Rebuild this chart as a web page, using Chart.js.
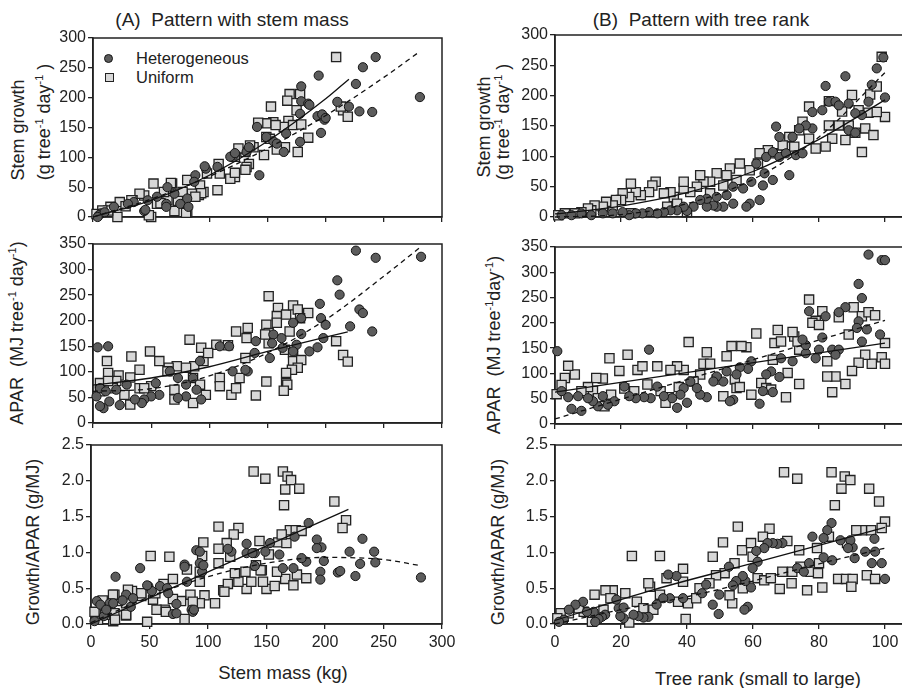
<!DOCTYPE html>
<html>
<head>
<meta charset="utf-8">
<script src="https://cdn.jsdelivr.net/npm/chart.js@4.4.1/dist/chart.umd.min.js"></script>
<style>
  body { margin: 0; width: 902px; height: 688px; overflow: hidden; background: #fff;
         font-family: "Liberation Sans", Arial, sans-serif; color: #222; position: relative; }
  canvas { position: absolute; }
  .t { position: absolute; white-space: nowrap; transform: translate(-50%, -50%); }
  .yt { position: absolute; white-space: nowrap; font-size: 18px; transform: translate(-50%, -50%) rotate(-90deg); }
  .yt sup { font-size: 11px; vertical-align: 7px; line-height: 0; }
  .mk { position: absolute; box-sizing: border-box; width: 9px; height: 9px; }
  .circ { border-radius: 50%; background: #5c5c5c; border: 1px solid #151515; }
  .sq { background: #d8d8d8; border: 1.3px solid #222; }
</style>
</head>
<body>

<div class="t" style="left:232px;top:20px;font-size:19px">(A)&nbsp; Pattern with stem mass</div>
<div class="t" style="left:701px;top:20px;font-size:19px">(B)&nbsp; Pattern with tree rank</div>

<div class="yt" style="left:18px;top:130px">Stem growth</div>
<div class="yt" style="left:44px;top:122px">(g tree<sup>-1</sup> day<sup>-1</sup> )</div>
<div class="yt" style="left:17px;top:333px">APAR&nbsp; (MJ tree<sup>-1</sup> day<sup>-1</sup>)</div>
<div class="yt" style="left:33px;top:542px">Growth/APAR (g/MJ)</div>

<div class="yt" style="left:484px;top:127px">Stem growth</div>
<div class="yt" style="left:503px;top:122px">(g tree<sup>-1</sup> day<sup>-1</sup> )</div>
<div class="yt" style="left:494px;top:345px">APAR&nbsp; (MJ tree<sup>-1</sup>day<sup>-1</sup>)</div>
<div class="yt" style="left:498px;top:542px">Growth/APAR (g/MJ)</div>

<div class="t" style="left:283px;top:673px;font-size:18.5px">Stem mass (kg)</div>
<div class="t" style="left:758px;top:679px;font-size:18.5px">Tree rank (small to large)</div>

<div class="mk circ" style="left:104px;top:54px"></div>
<div style="position:absolute;left:136px;top:49px;font-size:16.5px">Heterogeneous</div>
<div class="mk sq" style="left:105px;top:73px"></div>
<div style="position:absolute;left:136px;top:68px;font-size:16.5px">Uniform</div>

<canvas id="aGrowth" width="470" height="200" style="left:0;top:30px"></canvas>
<canvas id="aApar" width="470" height="196" style="left:0;top:236px"></canvas>
<canvas id="aRatio" width="470" height="251" style="left:0;top:437px"></canvas>
<canvas id="bGrowth" width="470" height="203" style="left:450px;top:27px"></canvas>
<canvas id="bApar" width="470" height="193" style="left:450px;top:239px"></canvas>
<canvas id="bRatio" width="470" height="251" style="left:450px;top:437px"></canvas>

<script>
// tick values
const massTicks = [0, 50, 100, 150, 200, 250, 300];
const rankTicks = [0, 20, 40, 60, 80, 100];
const growthTicks = [0, 50, 100, 150, 200, 250, 300];
const aparTicks = [0, 50, 100, 150, 200, 250, 300, 350];
const ratioTicks = [0, 0.5, 1.0, 1.5, 2.0, 2.5];

// (A) stem mass (kg) vs stem growth (g/tree/day)
const massGrowthHet = [[281,201],[243,268],[232,251],[226,223],[229,177],[240,176],[220,185],[210,193],[194,237],[196,141],
  [193,169],[199,163],[197,172],[179,219],[179,194],[185,190],[186,188],[178,126],[178,173],[141,151],[143,70],[164,109],
  [155,127],[121,103],[132,109],[97,81],[96,85],[88,70],[87,59],[81,31],[75,22],[70,39],[64,50],[63,22],[55,34],[47,28],
  [44,10],[35,25],[30,22],[18,17],[7,6],[5,3],[10,8],[4,0],[107,84],[118,101],[134,117],[149,134],[158,123],[166,140],[200,166],
  [45,12],[63,17],[82,17],[122,107]];
const massGrowthUni = [[209,268],[153,185],[169,206],[178,206],[167,195],[175,179],[168,161],[164,151],[172,154],[179,155],
  [185,133],[176,109],[165,117],[155,159],[149,157],[157,154],[142,158],[149,134],[152,131],[158,113],[147,104],[138,117],
  [135,120],[131,109],[125,115],[122,101],[134,89],[132,84],[122,67],[118,64],[109,73],[108,89],[98,73],[95,42],[107,45],
  [92,53],[91,37],[85,39],[81,62],[81,8],[77,42],[68,56],[64,28],[61,42],[52,56],[55,22],[44,36],[50,0],[40,39],[34,28],
  [23,25],[21,0],[15,17],[13,11],[8,11],[215,179],[219,168],[213,185],[3,5],[28,18],
  [67,57],[93,40],[33,28],[73,27],[70,10],[80,7],[48,3],[58,23],[88,34],[122,74],[131,79]];
const massGrowthUniFit = [[0,0],[50,28],[100,70],[150,127],[200,198],[220,231]];
const massGrowthHetFit = [[0,0],[50,30],[100,68],[150,115],[200,170],[250,234],[280,276]];

// (A) stem mass vs APAR (MJ/tree/day)
const massAparHet = [[282,325],[226,337],[243,323],[210,279],[212,251],[229,222],[232,215],[240,179],[221,189],[195,233],
  [196,205],[200,192],[198,166],[193,148],[186,140],[179,205],[172,196],[179,174],[175,153],[172,140],[162,166],[155,173],
  [154,156],[152,127],[163,147],[140,160],[139,137],[133,101],[131,104],[120,101],[117,150],[109,150],[92,121],[86,88],
  [80,75],[73,88],[66,101],[80,52],[73,49],[93,46],[89,65],[57,55],[50,52],[44,46],[42,39],[36,46],[23,35],[14,42],[9,29],
  [6,33],[4,148],[13,150],[3,52],[6,68],[11,62],[20,65],[29,75],[54,78]];
const massAparUni = [[151,248],[159,225],[158,209],[149,192],[151,176],[158,196],[166,212],[172,230],[176,222],[185,215],
  [178,205],[169,179],[165,143],[172,137],[172,121],[179,123],[176,108],[171,104],[166,98],[166,78],[167,75],[164,63],
  [151,156],[148,173],[132,166],[133,186],[131,127],[123,179],[116,152],[106,153],[109,88],[109,72],[119,55],[123,68],
  [126,88],[140,54],[149,81],[93,147],[95,121],[99,137],[83,163],[87,111],[86,88],[97,55],[92,75],[80,108],[72,111],
  [65,108],[57,121],[70,65],[70,46],[64,101],[49,140],[40,104],[33,130],[40,68],[32,89],[22,93],[32,36],[27,55],[20,82],
  [17,68],[12,121],[13,98],[6,78],[6,62],[13,82],[50,72],[44,68],[86,39],[209,160],[215,133],[219,120]];
const massAparUniFit = [[0,74],[50,88],[100,110],[150,140],[200,168],[219,178]];
const massAparHetFit = [[0,62],[50,67],[100,92],[150,137],[200,202],[250,287],[282,345]];

// (A) stem mass vs growth/APAR (g/MJ)
const massRatioHet = [[282,0.65],[186,1.41],[193,1.18],[197,1.07],[193,1.06],[199,0.88],[196,0.73],[196,0.62],[221,1.01],
  [232,1.19],[242,1.01],[243,0.86],[230,0.84],[226,0.67],[211,0.72],[213,0.74],[184,0.87],[180,0.92],[173,0.78],[164,0.78],
  [161,0.97],[153,1.13],[174,1.22],[149,1.01],[133,1.12],[133,0.99],[140,0.99],[140,0.81],[120,1.01],[117,1.05],[90,1.03],
  [93,1.01],[93,0.85],[95,0.73],[80,0.83],[82,0.59],[86,0.2],[87,0.17],[70,0.14],[73,0.28],[59,0.53],[65,0.5],[49,0.53],
  [42,0.78],[21,0.66],[30,0.41],[16,0.29],[5,0.32],[8,0.27],[11,0.11],[13,0.2],[3,0.04],[36,0.36],[52,0.46],
  [48,0.54],[80,0.8],[96,0.82],[73,0.15],[88,0.2],[19,0.29],[27,0.33],[34,0.24],[66,0.43],[138,0.99]];
const massRatioUni = [[139,2.13],[149,2.03],[164,2.13],[168,2.06],[171,2.01],[166,1.88],[178,1.89],[165,1.66],[208,1.71],
  [218,1.45],[215,1.34],[109,1.36],[126,1.34],[122,1.25],[116,1.13],[96,1.14],[109,1.05],[119,0.94],[109,0.85],[144,1.16],
  [152,0.97],[160,1.14],[167,1.13],[170,1.31],[175,1.31],[180,1.3],[163,1.25],[95,0.95],[93,0.59],[82,0.76],[93,0.73],
  [67,0.94],[51,0.95],[70,0.63],[62,0.56],[97,0.4],[106,0.29],[93,0.29],[85,0.41],[77,0.32],[70,0.35],[63,0.2],[56,0.2],
  [53,0.34],[43,0.39],[35,0.46],[30,0.29],[23,0.32],[20,0.41],[20,0.15],[19,0.04],[30,0.12],[13,0.25],[11,0.13],[6,0.06],
  [5,0.15],[48,0.03],[80,0.07],[113,0.47],[117,0.56],[132,0.73],[133,0.49],[126,0.59],[137,0.59],[146,0.75],[150,0.49],
  [157,0.53],[147,0.59],[166,0.63],[173,0.54],[176,0.69],[184,0.64],[159,0.73],[141,0.82],
  [55,0.43],[43,0.43],[31.6,0.48],[18.8,0.41],[10,0.33],[3,0.17],[12,0.13],[20.5,0.06],[30,0.13],[64,0.17],[87,0.31],
  [114,0.45],[123,0.71],[145,0.75]];
const massRatioUniFit = [[0,0],[220,1.6]];
const massRatioHetFit = [[0,0.02],[50,0.38],[100,0.66],[150,0.85],[200,0.93],[250,0.9],[280,0.82]];

// (B) tree rank vs stem growth
const rankGrowthHet = [[99.5,263],[97.5,245],[96,218],[100,197],[95,190],[89,187],[93,168],[88,232],[82,216],[83,190],
  [85,190],[86,184],[81,176],[89,143],[91,139],[78,146],[67,149],[72,132],[76,151],[74,146],[71,69],[73,102],[75,105],
  [68,132],[66,61],[63.5,72],[63,52],[59.5,58],[62,28],[59,22],[58,17],[57,47],[54,22],[54,50],[51,17],[49,17],[48,19],
  [46,17],[49,33],[52,36],[46,30],[44,28],[42,17],[40,10],[39,17],[37,11],[35,11],[33,8],[31,6],[28.5,8],[26.5,6],[24.5,6],
  [22.5,3],[20.5,8],[17.5,6],[14.5,6],[11,3],[8,6],[5,3],[2,3],[61,88],[64,99],[66,107],[68,99],[70,105],[78,173],[91,171]];
const rankGrowthUni = [[99,264],[95.5,202],[97.5,215],[90,201],[83,191],[77,182],[87,174],[92,176],[95,172],[94,146],
  [96.5,135],[100,165],[97.5,173],[91,139],[93,107],[88,127],[84,129],[82,116],[79,113],[86,151],[89,151],[83,151],[75,157],
  [74,143],[71,132],[70,116],[72.5,116],[77,129],[69,118],[66,105],[64.5,110],[62,105],[61.5,88],[59,77],[56,88],[53,80],
  [52,69],[55,61],[51,52],[49,72],[47,58],[45,58],[43,50],[44,69],[41,41],[39,47],[39,58],[36,33],[35,41],[33,39],[30.5,58],
  [29.5,52],[28.5,41],[26,36],[24.5,41],[23,55],[22.5,33],[20.5,39],[20,28],[18.5,28],[17.5,19],[15.5,25],[14.5,17],[12,19],
  [11,11],[10,14],[8,8],[6,6],[3,6],[1,3],[23,6],[40,8],[37,22],[34,17],[47,39]];
const rankGrowthUniFit = [[0,5],[20,18],[40,40],[60,75],[80,128],[100,193]];
const rankGrowthHetFit = [[0,0],[20,4],[40,22],[60,62],[80,132],[100,238]];

// (B) tree rank vs APAR
const rankAparHet = [[0.7,144],[95,335],[99,324],[100,324],[92,277],[93,249],[88,231],[86,221],[82,213],[77,223],[92,203],
  [91.5,190],[94.5,187],[93,163],[98.5,177],[81,171],[80,147],[84,147],[86,147],[85,137],[79,130],[76,140],[76,156],[75,167],
  [72,124],[68.5,130],[68,93],[65.5,104],[64,98],[66,63],[63,65],[62,40],[59.5,124],[58.5,109],[56,112],[55,98],[52,104],
  [54,48],[53,45],[51,84],[49,94],[48,84],[46,53],[44,58],[41,84],[43,71],[39,71],[38,58],[40,42],[37,32],[35.5,51],[33,55],
  [31,74],[28.5,147],[29,51],[27,53],[24.5,51],[22.5,55],[21,74],[18,45],[16,38],[14.5,55],[13,35],[11.5,45],[10,51],
  [8,26],[5,30],[4,53],[2,65],[7,55]];
const rankAparUni = [[77,246],[79,204],[78,200],[80,196],[81,223],[86,211],[90.5,231],[93,213],[95,221],[97,215],[89,177],
  [100,160],[99,132],[100,119],[96,119],[94,137],[92,121],[90,105],[88,79],[85,94],[82.5,94],[84,63],[82.5,124],[74,147],
  [72.5,173],[72,182],[67.5,186],[66.5,160],[68.5,163],[66,127],[73.5,163],[74,79],[70.5,101],[70,53],[61,179],[58,152],
  [56.5,154],[53.5,154],[52,134],[54.5,88],[55,71],[51,55],[49,88],[56,73],[59.5,58],[62.5,81],[64,71],[65.5,68],[46,142],
  [45,119],[47,119],[44,98],[42,84],[40.5,162],[39,107],[37,114],[35,107],[37.5,73],[34.5,53],[33.5,42],[31,114],[28,78],
  [25,107],[26.5,114],[22,137],[21,70],[19.5,105],[17,58],[16.5,130],[14.5,90],[12.5,91],[11.5,66],[10,73],[8,65],[6,98],
  [4,115],[3,91],[2,77],[0.5,59],[13,51],[15,35],[24,65],[32,65]];
const rankAparUniFit = [[0,63],[100,160]];
const rankAparHetFit = [[0,10],[100,205]];

// (B) tree rank vs growth/APAR
const rankRatioHet = [[100,0.63],[97,1.01],[99,0.85],[96,0.85],[96.8,1.19],[94,1.01],[90.8,0.92],[90.2,1.07],[89.5,1.17],
  [88.8,1.06],[86.5,1.17],[83.8,1.41],[82.5,1.31],[81.4,1.2],[78,1.22],[84,0.89],[81.4,0.93],[77,0.85],[73.4,0.78],[75.4,0.73],
  [68.9,1.13],[67.4,1.12],[66,1.13],[64.4,1.13],[63.4,1.06],[61,1.02],[61.4,0.87],[59.9,0.78],[59.4,0.51],[57.7,0.6],
  [56.9,0.67],[58.4,0.24],[57.4,0.2],[54.9,0.6],[53.9,0.54],[52.7,0.8],[49.8,0.41],[49.6,0.14],[47.8,0.27],[45.8,0.55],
  [44.6,0.43],[38.8,0.36],[36.8,0.67],[34.8,0.36],[32.8,0.36],[30.8,0.27],[28.3,0.1],[26.8,0.09],[25.3,0.11],[23.8,0.13],
  [20.8,0.08],[19.8,0.11],[19.3,0.22],[20.8,0.23],[18.6,0.34],[15.2,0.13],[14.2,0.1],[13.2,0.07],[11.7,0.17],[9.7,0.17],
  [8.5,0.31],[6.2,0.27],[4.2,0.2],[2.7,0.06],[1.2,0.03],[12.2,0.03],[34.3,0.69]];
const rankRatioUni = [[69.4,2.12],[73.4,2.03],[83.8,2.12],[87.8,2.06],[89.5,2.01],[86.8,1.89],[95.2,1.89],[84.8,1.66],
  [98.2,1.71],[100,1.43],[99,1.34],[95.8,1.31],[93,1.31],[91.3,1.31],[83,1.22],[88.5,1.13],[79.4,1.06],[74,1.03],[70.4,1.16],
  [65,1.33],[63,1.22],[55.4,1.36],[56.7,1.03],[59.4,1.13],[59.9,0.94],[50.9,1.14],[47.8,0.94],[54.4,0.85],[51.4,0.71],
  [48.8,0.68],[46.8,0.57],[43.8,0.5],[38.8,0.77],[38.8,0.59],[37.3,0.31],[33.8,0.64],[31.8,0.41],[28.8,0.52],[28.3,0.57],
  [31.8,0.95],[23.3,0.95],[21.3,0.43],[17.5,0.47],[15.3,0.47],[12,0.41],[11.2,0.03],[22.5,0.02],[39.6,0.07],[24.8,0.31],
  [26.8,0.22],[29.8,0.2],[16.8,0.36],[14.7,0.2],[8.7,0.17],[7.2,0.22],[4.2,0.15],[1.7,0.15],[0.7,0.08],[40.3,0.29],
  [42.8,0.36],[53.7,0.29],[52.9,0.4],[56.9,0.5],[61.4,0.64],[63.4,0.61],[65.4,0.64],[68.1,0.49],[68.9,0.73],[71.7,0.57],
  [71.9,0.73],[74.4,0.8],[76.4,0.47],[77.4,0.73],[79.7,0.71],[81,0.51],[85.8,0.63],[88.2,0.63],[90.2,0.63],[89.8,0.52],
  [94.5,0.68],[97,0.63],[80,0.85]];
const rankRatioUniFit = [[0,0.05],[30,0.48],[60,0.85],[100,1.35]];
const rankRatioHetFit = [[0,0],[20,0.2],[40,0.38],[60,0.6],[80,0.84],[100,1.06]];

const ink = '#222';
const tickFont = { family: '"Liberation Sans", Arial, sans-serif', size: 16 };

const framePlugin = {
    id: 'frame',
    beforeDatasetsDraw(chart) {
        const a = chart.chartArea, c = chart.ctx;
        c.save();
        c.strokeStyle = ink;
        c.lineWidth = 1.5;
        c.strokeRect(a.left, a.top, a.right - a.left, a.bottom - a.top);
        c.restore();
    }
};

const toPts = arr => arr.map(([x, y]) => ({ x, y }));

function fitLine(data, dashed) {
    return {
        data: toPts(data),
        showLine: true,
        pointRadius: 0,
        borderColor: '#111',
        borderWidth: 1.3,
        borderDash: dashed ? [5, 4] : [],
        tension: 0.4,
        cubicInterpolationMode: 'monotone',
        fill: false,
        clip: false
    };
}

function drawPanel(id, p) {
    const ctx = document.getElementById(id).getContext('2d');
    new Chart(ctx, {
        type: 'scatter',
        data: {
            datasets: [
                fitLine(p.uniFit, false),
                fitLine(p.hetFit, true),
                {
                    data: toPts(p.het),
                    pointStyle: 'circle', pointRadius: 4.6,
                    backgroundColor: '#5c5c5c', borderColor: '#151515', borderWidth: 1,
                    clip: false
                },
                {
                    data: toPts(p.uni),
                    pointStyle: 'rect', pointRadius: 6.5,
                    backgroundColor: '#d8d8d8', borderColor: ink, borderWidth: 1.3,
                    clip: false
                }
            ]
        },
        options: {
            responsive: false,
            animation: false,
            devicePixelRatio: 1,
            layout: { padding: { top: 8, right: p.padRight, left: 0, bottom: 0 } },
            plugins: { legend: { display: false }, tooltip: { enabled: false } },
            scales: {
                x: {
                    type: 'linear',
                    min: 0, max: p.xMax,
                    afterBuildTicks: s => { s.ticks = p.xTicks.map(v => ({ value: v })); },
                    afterFit: s => { s.height = p.xHeight; s.paddingLeft = 0; s.paddingRight = 0; },
                    grid: { drawOnChartArea: false, tickLength: 5, color: ink, lineWidth: 1.3 },
                    border: { color: ink, width: 1.5 },
                    ticks: { display: p.showX, color: ink, font: tickFont, padding: 4, maxRotation: 0 }
                },
                y: {
                    type: 'linear',
                    min: 0, max: p.yMax,
                    afterBuildTicks: s => { s.ticks = p.yTicks.map(v => ({ value: v })); },
                    afterFit: s => { s.width = p.yWidth; s.paddingTop = 0; s.paddingBottom = 0; },
                    grid: { drawOnChartArea: false, tickLength: 5, color: ink, lineWidth: 1.3 },
                    border: { color: ink, width: 1.5 },
                    ticks: {
                        color: ink, font: tickFont, padding: 2,
                        callback: v => p.yDecimals ? v.toFixed(p.yDecimals) : v
                    }
                }
            }
        },
        plugins: [framePlugin]
    });
}

const left = { xMax: 300, xTicks: massTicks, padRight: 28 };
const right = { xMax: 108, xTicks: rankTicks, padRight: 8.6, yWidth: 105 };

drawPanel('aGrowth', { ...left, yWidth: 93, xHeight: 13, showX: false, yMax: 300, yTicks: growthTicks,
    het: massGrowthHet, uni: massGrowthUni, hetFit: massGrowthHetFit, uniFit: massGrowthUniFit });
drawPanel('aApar', { ...left, yWidth: 93, xHeight: 9, showX: false, yMax: 350, yTicks: aparTicks,
    het: massAparHet, uni: massAparUni, hetFit: massAparHetFit, uniFit: massAparUniFit });
drawPanel('aRatio', { ...left, yWidth: 91, xHeight: 64, showX: true, yMax: 2.5, yTicks: ratioTicks, yDecimals: 1,
    het: massRatioHet, uni: massRatioUni, hetFit: massRatioHetFit, uniFit: massRatioUniFit });
drawPanel('bGrowth', { ...right, xHeight: 13, showX: false, yMax: 300, yTicks: growthTicks,
    het: rankGrowthHet, uni: rankGrowthUni, hetFit: rankGrowthHetFit, uniFit: rankGrowthUniFit });
drawPanel('bApar', { ...right, xHeight: 8, showX: false, yMax: 350, yTicks: aparTicks,
    het: rankAparHet, uni: rankAparUni, hetFit: rankAparHetFit, uniFit: rankAparUniFit });
drawPanel('bRatio', { ...right, xHeight: 64, showX: true, yMax: 2.5, yTicks: ratioTicks, yDecimals: 1,
    het: rankRatioHet, uni: rankRatioUni, hetFit: rankRatioHetFit, uniFit: rankRatioUniFit });
</script>
</body>
</html>
